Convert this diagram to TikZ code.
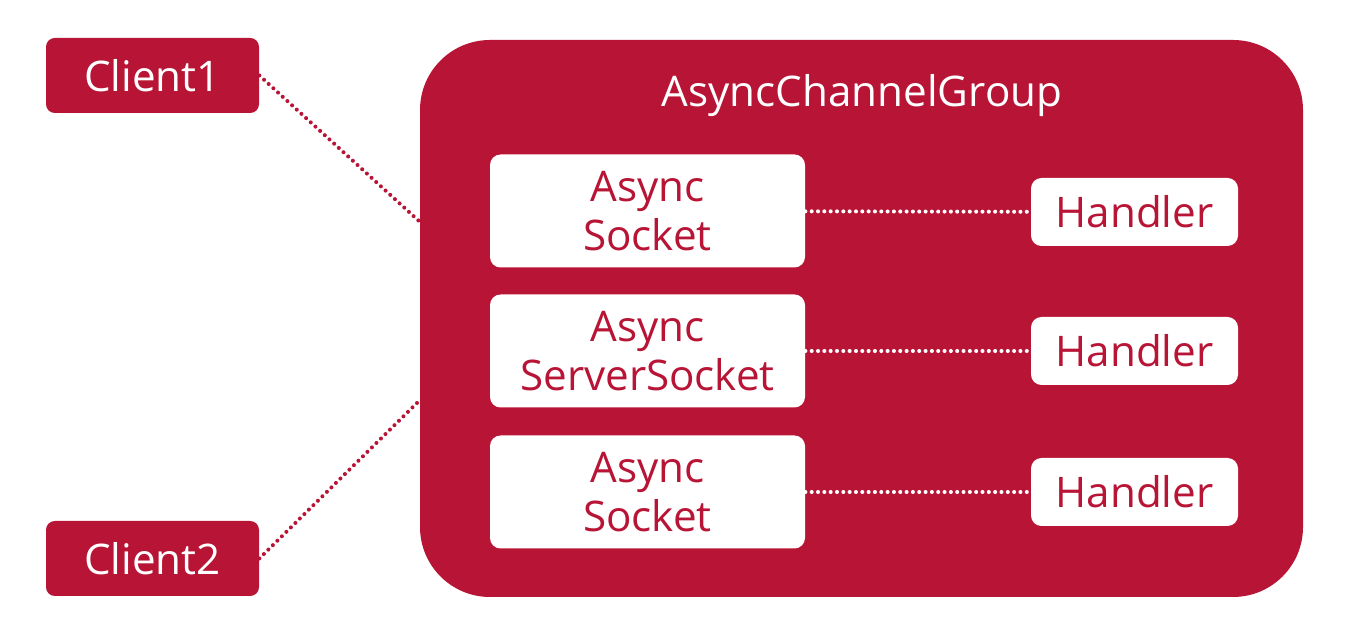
\documentclass[tikz,border=0pt]{standalone}
\usepackage{fontspec}
\setmainfont{Open Sans}
\definecolor{myred}{HTML}{B81435}
\usepackage{tikz}
\usetikzlibrary{positioning, calc}
\tikzset{
	clientnode/.style={
			rectangle,
			rounded corners=5pt,
			fill=myred,
			text=white,
			minimum width=4.26cm,
			minimum height=1.5cm,
			inner sep=0pt,
			font=\fontsize{24}{28}\selectfont
		},
	groupnode/.style={
			rectangle,
			rounded corners=1.4cm,
			fill=myred,
			minimum width=17.66cm,
			minimum height=11.14cm,
			inner sep=0pt
		},
	socketnode/.style={
			rectangle,
			rounded corners=6pt,
			fill=white,
			text=myred,
			align=center,
			minimum width=6.3cm,
			minimum height=2.26cm,
			inner sep=0pt,
			font=\fontsize{24}{28}\selectfont
		},
	handlernode/.style={
			socketnode,
			minimum width=4.14cm,
			minimum height=1.36cm
		},
	dotline/.style={
			line width=2.3pt,
			line cap=round,
			dash pattern=on 0pt off 3.6pt
		}
}
\begin{document}
\begin{tikzpicture}
\useasboundingbox (0,0) rectangle (26.94,12.74);

\node[groupnode] (tGroup) at (17.23,6.37) {};
\node[text=white, font=\fontsize{24}{28}\selectfont] (tTitle) at (17.24,10.82) {AsyncChannelGroup};

\node[clientnode] (tC1) at (3.05,11.23) {Client1};
\node[clientnode] (tC2) at (3.05,1.57) {Client2};

\node[socketnode] (tS1) at (12.95,8.52) {Async\\Socket};
\node[socketnode] (tS2) at (12.95,5.72) {Async\\ServerSocket};
\node[socketnode] (tS3) at (12.95,2.9) {Async\\Socket};

\node[handlernode] (tH1) at (22.69,8.5) {Handler};
\node[handlernode] (tH2) at (22.69,5.72) {Handler};
\node[handlernode] (tH3) at (22.69,2.9) {Handler};

\coordinate (gIn1) at (8.4,8.3);
\coordinate (gIn2) at (8.4,4.74);

\draw[dotline, myred] (tC1.east) -- (gIn1);
\draw[dotline, myred] (tC2.east) -- (gIn2);
\draw[dotline, white] (tS1) -- (tH1);
\draw[dotline, white] (tS2) -- (tH2);
\draw[dotline, white] (tS3) -- (tH3);
\end{tikzpicture}
\end{document}
